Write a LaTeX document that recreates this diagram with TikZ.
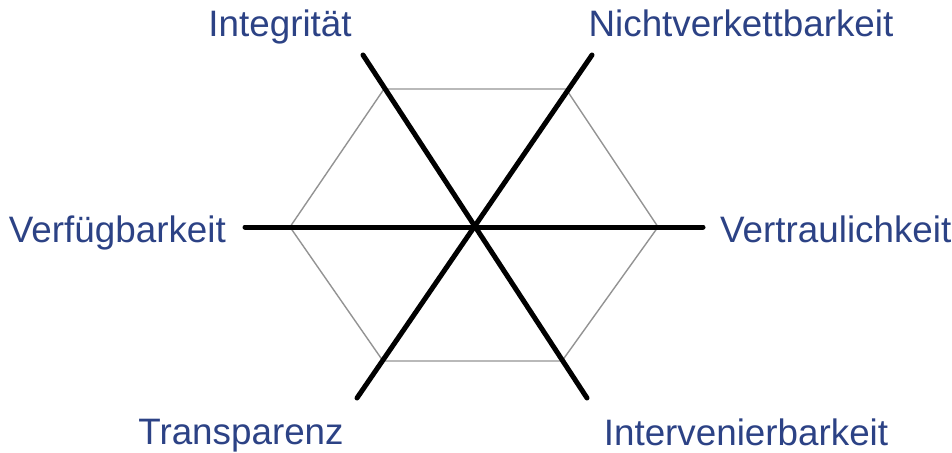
\documentclass[tikz,border=0pt]{standalone}
\usepackage{fontspec}
\setmainfont{Liberation Sans}
\definecolor{lblblue}{RGB}{44,66,133}
\begin{document}
\begin{tikzpicture}[x=1pt,y=-1pt,
  axis/.style={line width=5pt,line cap=round,black},
  hexline/.style={line width=1.4pt,gray!85},
  lbl/.style={text=lblblue,font=\fontsize{36.8}{40}\selectfont,inner sep=0pt}]
\useasboundingbox (0,0) rectangle (952,452);
\coordinate (c) at (474,227);
% hexagon vertices
\coordinate (hL) at (290,227);
\coordinate (hR) at (658,227);
\coordinate (hTL) at (384,89);
\coordinate (hTR) at (566,89);
\coordinate (hBL) at (383,361);
\coordinate (hBR) at (562,361);
\draw[hexline] (hL) -- (hTL) -- (hTR) -- (hR) -- (hBR) -- (hBL) -- cycle;
% axis endpoints
\coordinate (aL) at (245,227);
\coordinate (aR) at (703,227);
\coordinate (aTL) at (363,55);
\coordinate (aBR) at (587,398);
\coordinate (aTR) at (592,55);
\coordinate (aBL) at (357,398);
\draw[axis] (aL) -- (aR);
\draw[axis] (aTL) -- (aBR);
\draw[axis] (aTR) -- (aBL);
% labels
\node[lbl,anchor=base] (int) at (280,37) {Integrität};
\node[lbl,anchor=base] (nvk) at (741,37) {Nichtverkettbarkeit};
\node[lbl,anchor=base east] (vfb) at (226,242) {Verfügbarkeit};
\node[lbl,anchor=base west] (vtr) at (720,242) {Vertraulichkeit};
\node[lbl,anchor=base] (trp) at (241,444) {Transparenz};
\node[lbl,anchor=base] (itv) at (746,445) {Intervenierbarkeit};
\end{tikzpicture}
\end{document}
